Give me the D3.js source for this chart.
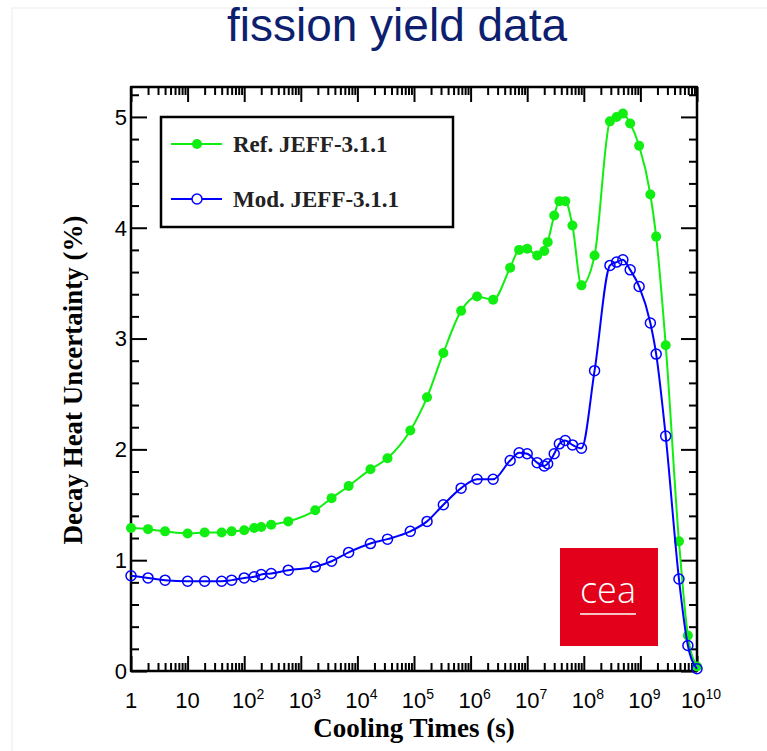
<!DOCTYPE html>
<html>
<head>
<meta charset="utf-8">
<script src="https://cdn.jsdelivr.net/npm/d3@7"></script>
<style>
  body { margin: 0; background: #fff; }
  svg { display: block; }
</style>
</head>
<body>
<script>
// chart values
const chartTitle = "fission yield data";
const xTitle = "Cooling Times (s)";
const yTitle = "Decay Heat Uncertainty (%)";
const seriesNames = ["Ref. JEFF-3.1.1", "Mod. JEFF-3.1.1"];

// cooling times in seconds
const coolingTimes = [1, 2, 4, 10, 20, 40, 60, 100, 150, 200, 300, 600, 1800, 3500, 7000,
  1.7e4, 3.4e4, 8.6e4, 1.7e5, 3.3e5, 6.8e5, 1.3e6, 2.5e6, 5e6, 7.2e6, 1e7, 1.5e7, 2e7,
  2.3e7, 3e7, 3.7e7, 4.7e7, 6.3e7, 9.1e7, 1.55e8, 2.9e8, 3.8e8, 4.9e8, 6.6e8, 9.5e8,
  1.5e9, 1.9e9, 2.8e9, 4.8e9, 6.9e9, 1e10];

// decay heat uncertainty (%)
const refValues = [1.29, 1.28, 1.26, 1.24, 1.25, 1.25, 1.26, 1.27, 1.29, 1.30, 1.32, 1.35,
  1.45, 1.56, 1.67, 1.82, 1.92, 2.17, 2.47, 2.87, 3.25, 3.38, 3.35, 3.64, 3.80, 3.81,
  3.75, 3.79, 3.87, 4.11, 4.24, 4.24, 4.02, 3.48, 3.75, 4.96, 5.00, 5.03, 4.94, 4.74,
  4.30, 3.92, 2.94, 1.17, 0.32, 0.04];
const modValues = [0.86, 0.84, 0.82, 0.81, 0.81, 0.81, 0.82, 0.84, 0.85, 0.87, 0.88, 0.91,
  0.94, 0.99, 1.07, 1.15, 1.19, 1.26, 1.35, 1.50, 1.65, 1.73, 1.73, 1.90, 1.97, 1.96,
  1.88, 1.85, 1.87, 1.96, 2.05, 2.08, 2.04, 2.01, 2.71, 3.66, 3.69, 3.71, 3.62, 3.47,
  3.14, 2.86, 2.12, 0.83, 0.23, 0.02];

// tick labels
const xTickExponents = [0, 1, 2, 3, 4, 5, 6, 7, 8, 9, 10];
const yTickValues = [0, 1, 2, 3, 4, 5];

(function() {

  let svg = "";
  const frame = { left: 131, right: 697, top: 87, bottom: 671 };
  const green = "#11ee11";
  const blue = "#0000ff";
  const serif = "'Liberation Serif', 'Times New Roman', serif";
  const sans = "'Liberation Sans', Arial, sans-serif";

  svg = d3.select('body').append('svg')
    .attr('width', 767)
    .attr('height', 751);

  svg.append('rect')
    .attr('width', 767).attr('height', 751)
    .attr('fill', '#fff');

  // faint slide border
  svg.append('rect')
    .attr('x', 12).attr('y', 8)
    .attr('width', 760).attr('height', 760)
    .attr('fill', 'none')
    .attr('stroke', '#ececec');

  // title
  svg.append('text')
    .attr('x', 397)
    .attr('y', 41)
    .attr('text-anchor', 'middle')
    .style('font-family', sans)
    .style('font-size', '46px')
    .attr('fill', '#0d1f6e')
    .text(chartTitle);

  let x = d3.scaleLog()
    .domain([1, 1e10])
    .range([frame.left, frame.right]);

  let y = d3.scaleLinear()
    .domain([0, 5.27])
    .range([frame.bottom, frame.top]);

  // major and minor tick positions
  let majorX = xTickExponents.map((e) => Math.pow(10, e));
  let minorX = [];
  xTickExponents.slice(0, -1).forEach((e) => {
    for (let m = 2; m <= 9; m++) minorX.push(m * Math.pow(10, e));
  });
  let minorY = d3.range(1, 27).map((i) => i * 0.2).filter((v) => Math.abs(v - Math.round(v)) > 0.01);

  function tickGroup(axis, transform) {
    let g = svg.append('g')
      .attr('transform', transform)
      .call(axis);
    g.select('.domain').remove();
    g.selectAll('line').attr('stroke', '#000').attr('stroke-width', 2);
    g.selectAll('text').remove();
  }

  tickGroup(d3.axisBottom(x).tickValues(majorX).tickSize(-15), `translate(0,${frame.bottom})`);
  tickGroup(d3.axisBottom(x).tickValues(minorX).tickSize(-8), `translate(0,${frame.bottom})`);
  tickGroup(d3.axisTop(x).tickValues(majorX).tickSize(-15), `translate(0,${frame.top})`);
  tickGroup(d3.axisTop(x).tickValues(minorX).tickSize(-8), `translate(0,${frame.top})`);
  tickGroup(d3.axisLeft(y).tickValues(yTickValues).tickSize(-16), `translate(${frame.left},0)`);
  tickGroup(d3.axisLeft(y).tickValues(minorY).tickSize(-8), `translate(${frame.left},0)`);
  tickGroup(d3.axisRight(y).tickValues(yTickValues).tickSize(-16), `translate(${frame.right},0)`);
  tickGroup(d3.axisRight(y).tickValues(minorY).tickSize(-8), `translate(${frame.right},0)`);

  // frame
  svg.append('rect')
    .attr('x', frame.left)
    .attr('y', frame.top)
    .attr('width', frame.right - frame.left)
    .attr('height', frame.bottom - frame.top)
    .attr('fill', 'none')
    .attr('stroke', '#000')
    .attr('stroke-width', 2.5)
    .attr('stroke-linejoin', 'round');

  // y tick labels
  svg.selectAll('.ylab')
    .data(yTickValues)
    .enter()
    .append('text')
      .attr('class', 'ylab')
      .attr('x', frame.left - 4)
      .attr('y', (d) => y(d))
      .attr('dy', '0.36em')
      .attr('text-anchor', 'end')
      .style('font-family', sans)
      .style('font-size', '22px')
      .text((d) => d);

  // x tick labels: 1, 10, then powers of ten
  let xLabels = svg.selectAll('.xlab')
    .data(xTickExponents)
    .enter()
    .append('text')
      .attr('class', 'xlab')
      .attr('x', (d) => x(Math.pow(10, d)) + (d >= 2 ? 4 : 0))
      .attr('y', 708)
      .attr('text-anchor', 'middle')
      .style('font-family', sans)
      .style('font-size', '22px');

  xLabels.append('tspan')
    .text((d) => d === 0 ? "1" : "10");
  xLabels.filter((d) => d >= 2)
    .append('tspan')
      .attr('dy', -9)
      .style('font-size', '14px')
      .text((d) => d);

  // axis titles
  svg.append('text')
    .attr('x', 414)
    .attr('y', 737)
    .attr('text-anchor', 'middle')
    .style('font-family', serif)
    .style('font-weight', 'bold')
    .style('font-size', '27px')
    .text(xTitle);

  svg.append('text')
    .attr('transform', 'translate(82, 380) rotate(-90)')
    .attr('text-anchor', 'middle')
    .style('font-family', serif)
    .style('font-weight', 'bold')
    .style('font-size', '27px')
    .text(yTitle);

  // cea logo
  svg.append('rect')
    .attr('x', 560).attr('y', 548)
    .attr('width', 98).attr('height', 98)
    .attr('fill', '#e2001a');
  svg.append('text')
    .attr('x', 608)
    .attr('y', 603)
    .attr('text-anchor', 'middle')
    .style('font-family', "'Open Sans', sans-serif")
    .style('font-weight', 300)
    .style('font-size', '36px')
    .attr('fill', '#fff')
    .text('cea');
  svg.append('line')
    .attr('x1', 580).attr('x2', 636)
    .attr('y1', 614).attr('y2', 614)
    .attr('stroke', '#fff')
    .attr('stroke-width', 1.5);

  // curves
  let series = [
    { name: seriesNames[0], values: refValues, color: green, filled: true },
    { name: seriesNames[1], values: modValues, color: blue, filled: false }
  ];

  let line = d3.line()
    .x((d) => x(d[0]))
    .y((d) => y(d[1]))
    .curve(d3.curveMonotoneX);

  series.forEach((s) => {
    let pts = coolingTimes.map((t, i) => [t, s.values[i]]);
    svg.append('path')
      .datum(pts)
      .attr('d', line)
      .attr('fill', 'none')
      .attr('stroke', s.color)
      .attr('stroke-width', 2);

    svg.selectAll('.dot-' + (s.filled ? 'ref' : 'mod'))
      .data(pts)
      .enter()
      .append('circle')
        .attr('cx', (d) => x(d[0]))
        .attr('cy', (d) => y(d[1]))
        .attr('r', 5)
        .attr('fill', s.filled ? s.color : 'none')
        .attr('stroke', s.color)
        .attr('stroke-width', s.filled ? 0 : 1.5);
  });

  // legend
  svg.append('rect')
    .attr('x', 161).attr('y', 117)
    .attr('width', 292).attr('height', 110)
    .attr('fill', '#fff')
    .attr('stroke', '#000')
    .attr('stroke-width', 2.5);

  series.forEach((s, i) => {
    let ly = 144 + i * 55;
    svg.append('line')
      .attr('x1', 171).attr('x2', 222)
      .attr('y1', ly).attr('y2', ly)
      .attr('stroke', s.color)
      .attr('stroke-width', 2);
    svg.append('circle')
      .attr('cx', 197).attr('cy', ly)
      .attr('r', 5)
      .attr('fill', s.filled ? s.color : '#fff')
      .attr('stroke', s.color)
      .attr('stroke-width', s.filled ? 0 : 1.5);
    svg.append('text')
      .attr('x', 233)
      .attr('y', ly + 8)
      .style('font-family', serif)
      .style('font-weight', 'bold')
      .style('font-size', '23px')
      .attr('fill', '#222')
      .text(s.name);
  });

})();
</script>
</body>
</html>
